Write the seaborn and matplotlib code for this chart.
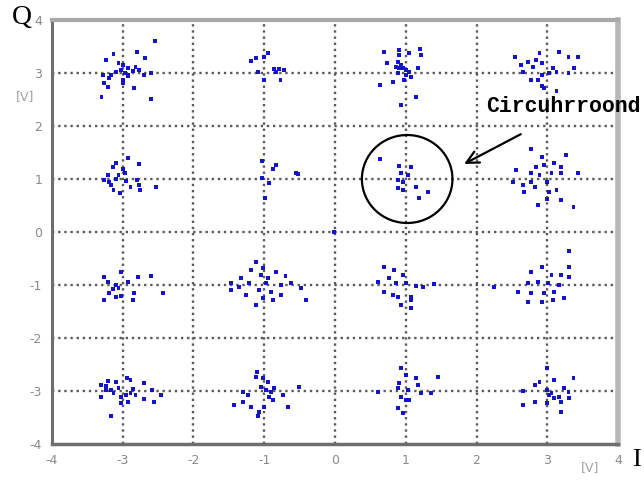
import matplotlib
matplotlib.use("Agg")
import matplotlib.pyplot as plt
import seaborn as sns
import pandas as pd
from matplotlib.patches import Ellipse, Polygon

# 16-QAM constellation centres (I, Q)
centers_I = [-3, -1, 1, 3, -3, -1, 1, 3, -3, -1, 1, 3, -3, -1, 1, 3]
centers_Q = [3, 3, 3, 3, 1, 1, 1, 1, -1, -1, -1, -1, -3, -3, -3, -3]

# received-sample offsets around each centre (dI, dQ)
c_m3_p3 = [(0.45, 0.60), (0.20, 0.40), (-0.13, 0.36), (-0.23, 0.25), (0.31, 0.28), (-0.06, 0.19),
           (0.01, 0.15), (0.08, 0.09), (0.18, 0.11), (0.23, 0.06), (-0.03, 0.06), (-0.10, 0.02),
           (0.03, 0.00), (0.07, -0.04), (-0.17, -0.04), (-0.28, -0.04), (0.30, -0.04), (0.40, 0.00),
           (0.00, -0.13), (-0.20, -0.09), (-0.27, -0.19), (-0.21, -0.26), (0.01, -0.19), (0.16, -0.28),
           (-0.30, -0.45), (0.40, -0.49), (0.08, -0.06), (0.14, 0.04)]
c_m1_p3 = [(0.05, 0.38), (0.00, 0.30), (-0.12, 0.28), (-0.19, 0.23), (-0.09, 0.02), (0.14, 0.08),
           (0.21, 0.08), (0.28, 0.06), (0.16, 0.02), (0.00, -0.13), (0.23, -0.13)]
c_p1_p3 = [(-0.31, 0.40), (-0.10, 0.43), (-0.10, 0.34), (0.05, 0.38), (0.20, 0.45), (0.21, 0.34),
           (-0.27, 0.19), (-0.11, 0.21), (-0.07, 0.15), (-0.14, 0.11), (-0.04, 0.09), (0.00, 0.06),
           (0.05, 0.02), (0.17, 0.09), (-0.11, 0.00), (0.00, -0.04), (0.07, -0.08), (-0.18, -0.17),
           (-0.36, -0.23), (-0.03, -0.13), (0.14, -0.45), (-0.07, -0.60), (-0.10, 0.09)]
c_p3_p3 = [(-0.11, 0.38), (0.16, 0.40), (0.30, 0.30), (0.44, 0.30), (-0.45, 0.30), (-0.27, 0.21),
           (-0.16, 0.25), (-0.08, 0.19), (-0.37, 0.15), (-0.20, 0.11), (0.08, 0.09), (0.38, 0.09),
           (0.13, 0.02), (-0.08, -0.04), (0.03, 0.00), (0.30, 0.00), (-0.34, 0.02), (-0.23, -0.13),
           (-0.08, -0.25), (-0.04, -0.28), (0.13, -0.34), (-0.13, -0.13)]
c_m3_p1 = [(0.07, 0.40), (-0.10, 0.30), (0.23, 0.28), (-0.14, 0.23), (0.01, 0.19), (0.03, 0.11),
           (-0.06, 0.08), (-0.21, 0.08), (-0.27, -0.02), (-0.10, 0.00), (0.04, -0.04), (0.20, -0.02),
           (-0.17, -0.11), (0.11, -0.15), (0.23, -0.11), (0.25, -0.21), (0.47, -0.15), (-0.13, -0.21),
           (-0.04, -0.26), (-0.20, -0.06)]
c_m1_p1 = [(-0.03, 0.34), (0.16, 0.26), (0.12, 0.19), (0.45, 0.11), (0.48, 0.09), (-0.03, 0.02),
           (0.07, -0.08), (0.01, -0.36)]
c_p1_p1 = [(-0.36, 0.38), (-0.10, 0.25), (0.07, 0.23), (-0.07, 0.11), (0.03, 0.08), (-0.11, -0.02),
           (-0.04, -0.06), (-0.11, -0.17), (-0.04, -0.21), (0.14, -0.15), (0.31, -0.25), (0.19, -0.36)]
c_p3_p1 = [(-0.23, 0.57), (-0.08, 0.42), (0.27, 0.45), (-0.44, 0.17), (-0.16, 0.23), (-0.04, 0.26),
           (0.10, 0.30), (0.20, 0.23), (0.44, 0.11), (-0.23, 0.11), (-0.11, 0.08), (0.06, 0.11),
           (0.20, 0.11), (-0.48, -0.06), (-0.34, -0.11), (-0.23, -0.06), (-0.18, -0.15), (-0.01, -0.06),
           (0.13, -0.21), (-0.33, -0.25), (-0.01, -0.38), (0.20, -0.40), (-0.13, -0.49), (0.37, -0.53),
           (0.03, -0.25)]
c_m3_m1 = [(-0.03, 0.25), (0.21, 0.15), (0.40, 0.17), (-0.27, 0.15), (-0.21, 0.06), (-0.10, 0.00),
           (0.07, 0.06), (-0.14, -0.08), (0.16, -0.15), (0.57, -0.15), (-0.20, -0.15), (-0.10, -0.23),
           (-0.03, -0.21), (-0.27, -0.28), (0.14, -0.28), (-0.06, -0.06)]
c_m1_m1 = [(-0.12, 0.43), (-0.02, 0.32), (-0.19, 0.28), (0.16, 0.25), (-0.33, 0.13), (-0.47, 0.04),
           (-0.22, 0.04), (0.02, 0.04), (0.24, 0.00), (0.38, 0.04), (0.59, -0.28), (-0.08, -0.09),
           (0.09, -0.13), (-0.26, -0.19), (-0.02, -0.25), (0.24, -0.19), (-0.12, -0.38), (-0.47, -0.09),
           (0.52, -0.06), (0.05, 0.13), (0.30, 0.17), (-0.36, -0.04), (0.12, -0.28), (-0.05, 0.19)]
c_p1_m1 = [(-0.31, 0.34), (-0.17, 0.28), (-0.24, 0.13), (-0.04, 0.19), (-0.39, 0.06), (-0.14, 0.04),
           (0.00, 0.04), (0.14, -0.02), (0.24, -0.04), (0.40, 0.02), (-0.31, -0.13), (-0.18, -0.19),
           (-0.11, -0.23), (0.07, -0.23), (-0.07, -0.38), (0.07, -0.28), (0.07, -0.43)]
c_p3_m1 = [(0.31, 0.64), (-0.08, 0.34), (0.31, 0.34), (-0.23, 0.25), (0.06, 0.19), (0.20, 0.19),
           (-0.27, 0.04), (-0.13, 0.06), (0.01, 0.04), (0.16, 0.00), (0.31, 0.15), (-0.41, -0.13),
           (-0.23, -0.15), (-0.04, -0.15), (0.10, -0.13), (-0.27, -0.32), (-0.08, -0.32), (0.24, -0.25),
           (0.08, -0.28), (-0.75, -0.04)]
c_m3_m3 = [(-0.21, 0.19), (-0.10, 0.17), (0.06, 0.25), (0.11, 0.21), (0.30, 0.15), (-0.31, 0.11),
           (-0.24, 0.09), (-0.17, 0.02), (-0.06, 0.06), (0.14, 0.04), (-0.31, -0.11), (-0.13, -0.04),
           (-0.03, -0.11), (0.04, -0.08), (0.11, -0.04), (0.18, -0.08), (0.30, -0.15), (0.42, 0.02),
           (0.54, -0.08), (0.44, -0.21), (-0.03, -0.23), (0.07, -0.21), (-0.17, -0.47), (-0.23, 0.02)]
c_m1_m3 = [(-0.10, 0.36), (-0.02, 0.25), (0.05, 0.17), (-0.05, 0.08), (-0.30, -0.02), (-0.23, -0.08),
           (0.02, 0.02), (0.09, -0.02), (0.14, 0.06), (0.26, -0.08), (0.07, -0.11), (0.12, -0.17),
           (-0.30, -0.21), (-0.43, -0.26), (-0.19, -0.30), (-0.01, -0.30), (-0.08, -0.40), (-0.09, -0.47),
           (0.33, -0.30), (0.49, 0.08), (-0.12, 0.26)]
c_p1_m3 = [(-0.07, 0.43), (0.00, 0.30), (0.14, 0.25), (0.17, 0.11), (-0.10, 0.15), (-0.11, 0.06),
           (0.03, 0.02), (-0.07, -0.11), (0.00, -0.17), (0.21, -0.04), (0.36, -0.04), (0.46, 0.26),
           (-0.39, -0.02), (-0.11, -0.32), (-0.04, -0.42), (0.05, -0.17)]
c_p3_m3 = [(-0.01, 0.43), (-0.11, 0.17), (-0.18, 0.11), (0.10, 0.21), (0.37, 0.25), (-0.34, 0.00),
           (0.00, 0.02), (0.06, -0.04), (0.16, -0.11), (0.24, 0.06), (0.30, -0.02), (0.31, -0.13),
           (0.10, -0.13), (0.20, -0.21), (-0.18, -0.21), (-0.34, -0.26), (-0.01, -0.23), (0.20, -0.40),
           (0.03, -0.08)]
stray_I = [-0.02]
stray_Q = [0.00]

clusters = [c_m3_p3, c_m1_p3, c_p1_p3, c_p3_p3,
            c_m3_p1, c_m1_p1, c_p1_p1, c_p3_p1,
            c_m3_m1, c_m1_m1, c_p1_m1, c_p3_m1,
            c_m3_m3, c_m1_m3, c_p1_m3, c_p3_m3]

ticks = [-4, -3, -2, -1, 0, 1, 2, 3, 4]
tick_labels = ["-4", "-3", "-2", "-1", "0", "1", "2", "3", "4"]

rows = []
for ci, cq, offs in zip(centers_I, centers_Q, clusters):
    for dI, dQ in offs:
        rows.append((ci + dI, cq + dQ))
for si, sq in zip(stray_I, stray_Q):
    rows.append((si, sq))
df = pd.DataFrame(rows, columns=["I", "Q"])

sns.set_style("white")
plt.rcParams['font.family'] = ['DejaVu Sans']

fig = plt.figure(figsize=(6.44, 4.82), dpi=100)
ax = fig.add_axes([0.0807, 0.0788, 0.879, 0.8797])

sns.scatterplot(data=df, x="I", y="Q", ax=ax, marker="s", s=8, color="#1414c8",
                edgecolor="none", linewidth=0, zorder=3)

ax.set_xlim(-4, 4)
ax.set_ylim(-4, 4)
ax.set_xticks(ticks)
ax.set_yticks(ticks)
ax.set_xticklabels(tick_labels)
ax.set_yticklabels(tick_labels)
ax.tick_params(length=0, pad=7, labelsize=9, labelcolor="#8a8a8a")
ax.xaxis.label.set_visible(False)
ax.yaxis.label.set_visible(False)

# dotted grid at every inner tick, drawn as open polyline patches
lo, hi = ticks[0], ticks[-1]
for t in ticks[1:-1]:
    ax.add_patch(Polygon([[t, lo], [t, hi]], closed=False, fill=False,
                         edgecolor="#5a5a5a", linewidth=1.7,
                         linestyle=(0, (1.0, 1.6)), zorder=2))
    ax.add_patch(Polygon([[lo, t], [hi, t]], closed=False, fill=False,
                         edgecolor="#5a5a5a", linewidth=1.7,
                         linestyle=(0, (1.0, 1.6)), zorder=2))

for side, col, lw in [("left", "#6e6e6e", 2.2), ("bottom", "#6e6e6e", 2.5),
                      ("top", "#a8a8a8", 3.0), ("right", "#b8b8b8", 4.0)]:
    ax.spines[side].set_visible(True)
    ax.spines[side].set_color(col)
    ax.spines[side].set_linewidth(lw)

# circle around the (1,1) cluster
circ = Ellipse((1.02, 1.0), width=1.28, height=1.66, fill=False, edgecolor="black",
               linewidth=1.6, zorder=4)
ax.add_patch(circ)

# arrow and label
ax.annotate("", xy=(1.79, 1.26), xytext=(2.66, 1.87),
            arrowprops=dict(arrowstyle="->", color="black", lw=1.6, mutation_scale=22))
ax.text(2.13, 2.36, "Circuhrroond", family=["Liberation Mono", "DejaVu Sans Mono"],
        fontweight="bold", fontsize=15.5, color="black", va="center", ha="left",
        clip_on=False)

ax.set_xlim(-4, 4)
ax.set_ylim(-4, 4)

fig.text(0.034, 0.963, "Q", fontsize=20, family=["Liberation Serif", "DejaVu Serif"],
         color="black", ha="center", va="center")
fig.text(0.039, 0.80, "[V]", fontsize=9, color="#a0a0a0", ha="center", va="center")
fig.text(0.917, 0.030, "[V]", fontsize=9, color="#a0a0a0", ha="center", va="center")
fig.text(0.988, 0.045, "I", fontsize=19, family=["Liberation Serif", "DejaVu Serif"],
         color="black", ha="center", va="center")

fig.savefig("out.png", dpi=100)
